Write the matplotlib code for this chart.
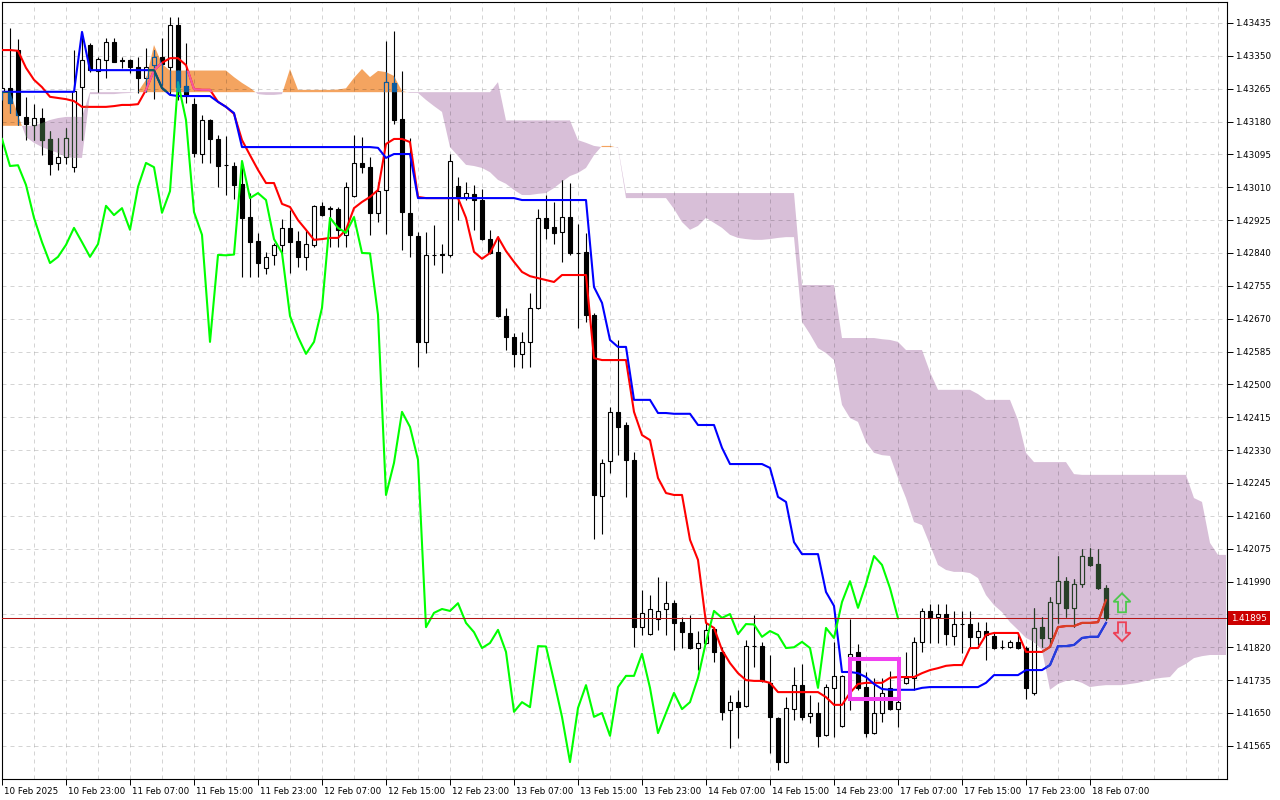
import numpy as np
import matplotlib
matplotlib.use('Agg')
import matplotlib.pyplot as plt
import matplotlib.patches as patches
from matplotlib.collections import LineCollection
from matplotlib.path import Path
from matplotlib.transforms import IdentityTransform, ScaledTranslation, blended_transform_factory

plt.rcParams['font.family'] = 'DejaVu Sans'

# H1 bars from 10 Feb 15:00 to 18 Feb 09:00 (139 bars)
opens = [
    1.43257, 1.43267, 1.43365, 1.43192, 1.43171, 1.43189, 1.43135, 1.43073, 1.43088, 1.43062,
    1.43269, 1.43378, 1.43311, 1.43339, 1.43386, 1.43338, 1.43339, 1.43321, 1.43293, 1.43326,
    1.43347, 1.43321, 1.43430, 1.43272, 1.43225, 1.43096, 1.43184, 1.43135, 1.43068, 1.43065,
    1.43019, 1.42933, 1.42871, 1.42801, 1.42835, 1.42861, 1.42905, 1.42871, 1.42830, 1.42861,
    1.42962, 1.42954, 1.42954, 1.42887, 1.42987, 1.43073, 1.43062, 1.42944, 1.43003, 1.43280,
    1.43187, 1.42944, 1.42884, 1.42610, 1.42835, 1.42837, 1.42835, 1.43013, 1.42985, 1.42993,
    1.42977, 1.42876, 1.42843, 1.42677, 1.42623, 1.42579, 1.42610, 1.42698, 1.42931, 1.42907,
    1.42894, 1.42933, 1.42840, 1.42843, 1.42680, 1.42211, 1.42302, 1.42429, 1.42395, 1.42305,
    1.41872, 1.41854, 1.41893, 1.41919, 1.41934, 1.41885, 1.41857, 1.41818, 1.41831, 1.41867,
    1.41808, 1.41658, 1.41678, 1.41668, 1.41823, 1.41823, 1.41728, 1.41637, 1.41523, 1.41660,
    1.41722, 1.41642, 1.41650, 1.41593, 1.41715, 1.41616, 1.41795, 1.41808, 1.41717, 1.41598,
    1.41650, 1.41715, 1.41660, 1.41728, 1.41741, 1.41834, 1.41914, 1.41898, 1.41906, 1.41849,
    1.41880, 1.41880, 1.41847, 1.41862, 1.41849, 1.41821, 1.41821, 1.41834, 1.41818, 1.41702,
    1.41872, 1.41844, 1.41934, 1.41991, 1.41922, 1.41984, 1.42054, 1.42035, 1.41973,
]
highs = [
    1.43288, 1.43422, 1.43394, 1.43244, 1.43225, 1.43215, 1.43156, 1.43137, 1.43163, 1.43365,
    1.43412, 1.43383, 1.43347, 1.43396, 1.43396, 1.43347, 1.43341, 1.43347, 1.43370, 1.43365,
    1.43396, 1.43450, 1.43450, 1.43383, 1.43241, 1.43197, 1.43187, 1.43145, 1.43143, 1.43075,
    1.43075, 1.42995, 1.42892, 1.42843, 1.42866, 1.42928, 1.42951, 1.42897, 1.42900, 1.42964,
    1.42972, 1.42962, 1.42958, 1.43024, 1.43145, 1.43140, 1.43088, 1.43024, 1.43388, 1.43414,
    1.43311, 1.43137, 1.42894, 1.42894, 1.42912, 1.42863, 1.43096, 1.43037, 1.43024, 1.43016,
    1.43006, 1.42900, 1.42884, 1.42698, 1.42633, 1.42636, 1.42736, 1.42954, 1.42990, 1.42972,
    1.43029, 1.43021, 1.42915, 1.42892, 1.42685, 1.42307, 1.42442, 1.42615, 1.42403, 1.42325,
    1.41968, 1.41955, 1.42002, 1.41991, 1.41942, 1.41898, 1.41903, 1.41862, 1.41883, 1.41872,
    1.41821, 1.41697, 1.41710, 1.41839, 1.41903, 1.41834, 1.41800, 1.41639, 1.41691, 1.41769,
    1.41777, 1.41697, 1.41678, 1.41725, 1.41834, 1.41748, 1.41893, 1.41828, 1.41756, 1.41741,
    1.41741, 1.41759, 1.41710, 1.41808, 1.41847, 1.41922, 1.41932, 1.41932, 1.41932, 1.41914,
    1.41914, 1.41914, 1.41885, 1.41885, 1.41859, 1.41839, 1.41839, 1.41852, 1.41823, 1.41922,
    1.41898, 1.41950, 1.42056, 1.42002, 1.41997, 1.42074, 1.42077, 1.42074, 1.41981,
]
lows = [
    1.43236, 1.43202, 1.43171, 1.43132, 1.43132, 1.43093, 1.43042, 1.43055, 1.43070, 1.43049,
    1.43132, 1.43308, 1.43257, 1.43293, 1.43334, 1.43319, 1.43306, 1.43254, 1.43257, 1.43238,
    1.43275, 1.43249, 1.43236, 1.43228, 1.43088, 1.43073, 1.43073, 1.43011, 1.42990, 1.42980,
    1.42778, 1.42778, 1.42778, 1.42786, 1.42809, 1.42840, 1.42788, 1.42804, 1.42796, 1.42856,
    1.42936, 1.42856, 1.42856, 1.42856, 1.42985, 1.43047, 1.42887, 1.42920, 1.42889, 1.43174,
    1.42848, 1.42830, 1.42545, 1.42581, 1.42809, 1.42788, 1.42830, 1.42925, 1.42977, 1.42900,
    1.42874, 1.42838, 1.42674, 1.42589, 1.42545, 1.42542, 1.42545, 1.42696, 1.42876, 1.42863,
    1.42817, 1.42835, 1.42646, 1.42662, 1.42100, 1.42113, 1.42271, 1.42317, 1.42209, 1.41821,
    1.41852, 1.41852, 1.41865, 1.41852, 1.41813, 1.41818, 1.41815, 1.41761, 1.41828, 1.41782,
    1.41632, 1.41559, 1.41585, 1.41665, 1.41769, 1.41730, 1.41547, 1.41503, 1.41520, 1.41632,
    1.41632, 1.41624, 1.41562, 1.41591, 1.41588, 1.41614, 1.41658, 1.41710, 1.41588, 1.41596,
    1.41627, 1.41658, 1.41614, 1.41725, 1.41710, 1.41808, 1.41831, 1.41831, 1.41826, 1.41826,
    1.41805, 1.41818, 1.41826, 1.41787, 1.41815, 1.41815, 1.41818, 1.41815, 1.41686, 1.41697,
    1.41821, 1.41821, 1.41883, 1.41898, 1.41872, 1.41976, 1.42030, 1.41971, 1.41891,
]
closes = [
    1.43267, 1.43228, 1.43197, 1.43174, 1.43189, 1.43132, 1.43070, 1.43088, 1.43137, 1.43259,
    1.43339, 1.43313, 1.43342, 1.43386, 1.43334, 1.43336, 1.43321, 1.43293, 1.43321, 1.43347,
    1.43329, 1.43430, 1.43269, 1.43249, 1.43099, 1.43184, 1.43135, 1.43065, 1.43067, 1.43016,
    1.42931, 1.42868, 1.42814, 1.42830, 1.42861, 1.42905, 1.42868, 1.42830, 1.42863, 1.42962,
    1.42938, 1.42956, 1.42900, 1.43011, 1.43073, 1.43062, 1.42944, 1.43000, 1.43282, 1.43184,
    1.42946, 1.42887, 1.42610, 1.42835, 1.42834, 1.42836, 1.43078, 1.42982, 1.42995, 1.42977,
    1.42876, 1.42840, 1.42677, 1.42623, 1.42579, 1.42610, 1.42698, 1.42931, 1.42905, 1.42892,
    1.42933, 1.42840, 1.42839, 1.42680, 1.42214, 1.42297, 1.42429, 1.42390, 1.42305, 1.41872,
    1.41909, 1.41919, 1.41914, 1.41934, 1.41883, 1.41859, 1.41818, 1.41831, 1.41865, 1.41808,
    1.41653, 1.41678, 1.41665, 1.41823, 1.41822, 1.41733, 1.41640, 1.41523, 1.41663, 1.41722,
    1.41640, 1.41650, 1.41591, 1.41717, 1.41746, 1.41746, 1.41803, 1.41715, 1.41598, 1.41650,
    1.41702, 1.41660, 1.41678, 1.41741, 1.41834, 1.41914, 1.41896, 1.41906, 1.41854, 1.41880,
    1.41879, 1.41847, 1.41862, 1.41852, 1.41818, 1.41820, 1.41834, 1.41818, 1.41715, 1.41870,
    1.41844, 1.41937, 1.41991, 1.41922, 1.41984, 1.42056, 1.42033, 1.41973, 1.41895,
]

# Ichimoku lines as drawn on the chart
tenkan = [
    1.43365, 1.43365, 1.43363, 1.43319, 1.43288, 1.43269, 1.43244, 1.43241, 1.43238, 1.43233,
    1.43218, 1.43218, 1.43218, 1.43218, 1.43220, 1.43223, 1.43223, 1.43225, 1.43262, 1.43313,
    1.43332, 1.43344, 1.43344, 1.43326, 1.43264, 1.43262, 1.43262, 1.43231, 1.43218, 1.43200,
    1.43132, 1.43093, 1.43055, 1.43021, 1.43021, 1.42967, 1.42959, 1.42925, 1.42900, 1.42874,
    1.42876, 1.42879, 1.42879, 1.42900, 1.42956, 1.42972, 1.42985, 1.43003, 1.43122, 1.43135,
    1.43135, 1.43127, 1.42985, 1.42982, 1.42982, 1.42982, 1.42982, 1.42982, 1.42931, 1.42843,
    1.42825, 1.42840, 1.42881, 1.42845, 1.42817, 1.42791, 1.42780, 1.42775, 1.42770, 1.42765,
    1.42783, 1.42783, 1.42783, 1.42783, 1.42568, 1.42563, 1.42563, 1.42563, 1.42563, 1.42429,
    1.42369, 1.42356, 1.42258, 1.42219, 1.42214, 1.42214, 1.42098, 1.42046, 1.41883, 1.41870,
    1.41813, 1.41779, 1.41753, 1.41735, 1.41733, 1.41733, 1.41728, 1.41704, 1.41704, 1.41704,
    1.41704, 1.41704, 1.41704, 1.41691, 1.41671, 1.41671, 1.41702, 1.41725, 1.41728, 1.41728,
    1.41728, 1.41741, 1.41743, 1.41743, 1.41743, 1.41753, 1.41761, 1.41766, 1.41772, 1.41774,
    1.41774, 1.41818, 1.41818, 1.41852, 1.41857, 1.41857, 1.41857, 1.41857, 1.41808, 1.41808,
    1.41808, 1.41821, 1.41872, 1.41875, 1.41875, 1.41883, 1.41883, 1.41885, 1.41942,
]
kijun = [
    1.43257, 1.43257, 1.43257, 1.43257, 1.43257, 1.43257, 1.43257, 1.43257, 1.43257, 1.43257,
    1.43412, 1.43313, 1.43313, 1.43313, 1.43313, 1.43313, 1.43313, 1.43313, 1.43313, 1.43313,
    1.43267, 1.43249, 1.43246, 1.43246, 1.43246, 1.43246, 1.43246, 1.43231, 1.43218, 1.43202,
    1.43114, 1.43114, 1.43114, 1.43114, 1.43114, 1.43114, 1.43114, 1.43114, 1.43114, 1.43114,
    1.43114, 1.43114, 1.43114, 1.43114, 1.43114, 1.43114, 1.43114, 1.43112, 1.43086, 1.43096,
    1.43096, 1.43096, 1.42982, 1.42982, 1.42982, 1.42982, 1.42982, 1.42982, 1.42982, 1.42982,
    1.42982, 1.42982, 1.42982, 1.42982, 1.42982, 1.42977, 1.42977, 1.42977, 1.42977, 1.42977,
    1.42977, 1.42977, 1.42977, 1.42977, 1.42752, 1.42711, 1.42615, 1.42597, 1.42597, 1.42460,
    1.42460, 1.42460, 1.42426, 1.42426, 1.42424, 1.42424, 1.42424, 1.42395, 1.42395, 1.42395,
    1.42336, 1.42294, 1.42294, 1.42294, 1.42294, 1.42294, 1.42284, 1.42209, 1.42196, 1.42092,
    1.42061, 1.42061, 1.42061, 1.41963, 1.41927, 1.41756, 1.41756, 1.41753, 1.41743, 1.41725,
    1.41712, 1.41710, 1.41710, 1.41710, 1.41710, 1.41715, 1.41717, 1.41717, 1.41717, 1.41717,
    1.41717, 1.41717, 1.41717, 1.41728, 1.41748, 1.41748, 1.41748, 1.41748, 1.41761, 1.41761,
    1.41761, 1.41774, 1.41823, 1.41823, 1.41826, 1.41844, 1.41847, 1.41847, 1.41883,
]
# cloud spans, running 15 bars past the last candle
span_a = [
    1.43257, 1.43257, 1.43197, 1.43140, 1.43125, 1.43114, 1.43106, 1.43099, 1.43088, 1.43086,
    1.43086, 1.43251, 1.43251, 1.43251, 1.43251, 1.43253, 1.43254, 1.43257, 1.43288, 1.43378,
    1.43329, 1.43312, 1.43312, 1.43312, 1.43312, 1.43312, 1.43312, 1.43312, 1.43312, 1.43295,
    1.43280, 1.43267, 1.43251, 1.43249, 1.43249, 1.43251, 1.43316, 1.43262, 1.43262, 1.43262,
    1.43262, 1.43262, 1.43263, 1.43266, 1.43293, 1.43316, 1.43295, 1.43311, 1.43308, 1.43298,
    1.43259, 1.43254, 1.43254, 1.43236, 1.43220, 1.43205, 1.43114, 1.43091, 1.43068, 1.43065,
    1.43060, 1.43049, 1.43029, 1.43019, 1.43003, 1.42990, 1.42990, 1.42993, 1.42995, 1.43008,
    1.43024, 1.43039, 1.43047, 1.43060, 1.43093, 1.43117, 1.43117, 1.43112, 1.42982, 1.42982,
    1.42982, 1.42982, 1.42982, 1.42982, 1.42954, 1.42920, 1.42900, 1.42910, 1.42931, 1.42918,
    1.42905, 1.42887, 1.42879, 1.42876, 1.42874, 1.42874, 1.42876, 1.42879, 1.42881, 1.42881,
    1.42662, 1.42630, 1.42594, 1.42581, 1.42563, 1.42447, 1.42413, 1.42403, 1.42351, 1.42323,
    1.42317, 1.42315, 1.42258, 1.42206, 1.42144, 1.42136, 1.42085, 1.42033, 1.42020, 1.42015,
    1.42015, 1.42012, 1.41999, 1.41955, 1.41929, 1.41911, 1.41885, 1.41865, 1.41844, 1.41834,
    1.41813, 1.41710, 1.41725, 1.41733, 1.41735, 1.41728, 1.41717, 1.41720, 1.41722, 1.41722,
    1.41722, 1.41725, 1.41728, 1.41733, 1.41738, 1.41741, 1.41743, 1.41766, 1.41777, 1.41792,
    1.41797, 1.41800, 1.41800, 1.41800,
]
span_b = [
    1.43169, 1.43169, 1.43169, 1.43169, 1.43169, 1.43176, 1.43184, 1.43189, 1.43192, 1.43192,
    1.43192, 1.43256, 1.43256, 1.43256, 1.43256, 1.43256, 1.43256, 1.43256, 1.43256, 1.43256,
    1.43256, 1.43256, 1.43256, 1.43256, 1.43256, 1.43256, 1.43256, 1.43256, 1.43256, 1.43256,
    1.43256, 1.43256, 1.43256, 1.43256, 1.43256, 1.43256, 1.43256, 1.43256, 1.43256, 1.43256,
    1.43256, 1.43256, 1.43256, 1.43256, 1.43256, 1.43256, 1.43256, 1.43256, 1.43256, 1.43256,
    1.43256, 1.43256, 1.43256, 1.43256, 1.43256, 1.43256, 1.43256, 1.43256, 1.43256, 1.43256,
    1.43256, 1.43256, 1.43282, 1.43183, 1.43183, 1.43183, 1.43183, 1.43183, 1.43183, 1.43183,
    1.43183, 1.43183, 1.43132, 1.43125, 1.43117, 1.43114, 1.43114, 1.43114, 1.42995, 1.42995,
    1.42995, 1.42995, 1.42995, 1.42995, 1.42995, 1.42995, 1.42995, 1.42995, 1.42995, 1.42995,
    1.42995, 1.42995, 1.42995, 1.42995, 1.42995, 1.42995, 1.42995, 1.42995, 1.42995, 1.42995,
    1.42757, 1.42757, 1.42757, 1.42757, 1.42757, 1.42620, 1.42620, 1.42620, 1.42620, 1.42620,
    1.42617, 1.42615, 1.42610, 1.42589, 1.42589, 1.42589, 1.42532, 1.42486, 1.42486, 1.42486,
    1.42486, 1.42486, 1.42475, 1.42460, 1.42460, 1.42460, 1.42460, 1.42408, 1.42323, 1.42299,
    1.42299, 1.42299, 1.42299, 1.42299, 1.42268, 1.42266, 1.42266, 1.42266, 1.42266, 1.42266,
    1.42266, 1.42266, 1.42266, 1.42266, 1.42266, 1.42266, 1.42266, 1.42266, 1.42266, 1.42206,
    1.42196, 1.42090, 1.42059, 1.42059,
]
chikou_shift = 26

time_labels = ['10 Feb 2025', '10 Feb 23:00', '11 Feb 07:00', '11 Feb 15:00', '11 Feb 23:00',
               '12 Feb 07:00', '12 Feb 15:00', '12 Feb 23:00', '13 Feb 07:00', '13 Feb 15:00',
               '13 Feb 23:00', '14 Feb 07:00', '14 Feb 15:00', '14 Feb 23:00', '17 Feb 07:00',
               '17 Feb 15:00', '17 Feb 23:00', '18 Feb 07:00']
price_ticks = [1.41565, 1.41650, 1.41735, 1.41820, 1.41905, 1.41990, 1.42075, 1.42160,
               1.42245, 1.42330, 1.42415, 1.42500, 1.42585, 1.42670, 1.42755, 1.42840,
               1.42925, 1.43010, 1.43095, 1.43180, 1.43265, 1.43350, 1.43435]

# highlighted area (bars / prices)
box_bars = [106.0, 112.1]
box_prices = [1.41686, 1.41790]

SANDY = '#F4A460'
THISTLE = '#D8BFD8'


def mt_mix(color, cloud):
    # MT4 paints the cloud with a not-xor pen, so colours change inside it
    a = [int(color[i:i + 2], 16) for i in (1, 3, 5)]
    b = [int(cloud[i:i + 2], 16) for i in (1, 3, 5)]
    return '#' + ''.join('%02x' % (255 - (p ^ q)) for p, q in zip(a, b))


n = len(closes)
o = np.array(opens)
c = np.array(closes)
last = closes[-1]

fig = plt.figure(figsize=(12.8, 8), dpi=100)
ax = fig.add_axes([2 / 1280, 21 / 800, 1225 / 1280, 777 / 800])

# cloud
xc = np.arange(len(span_a))
sa = np.array(span_a)
sb = np.array(span_b)
up = ax.fill_between(xc, sa, sb, where=sa >= sb, interpolate=True,
                     facecolor=SANDY, edgecolor='none', linewidth=0, zorder=1)
dn = ax.fill_between(xc, sa, sb, where=sa < sb, interpolate=True,
                     facecolor=THISTLE, edgecolor='none', linewidth=0, zorder=1)

# grid
for yv in price_ticks:
    ax.axhline(yv, color=(0, 0, 0, 0.17), lw=0.72, ls=(0, (4, 4)), zorder=1.5)
for xv in range(4, 154, 4):
    ax.axvline(xv, color=(0, 0, 0, 0.17), lw=0.72, ls=(0, (4, 4)), zorder=1.5)


def draw_chart(edge, bull, bear, red, blue, lime, z, clip=None):
    arts = []
    xs = np.arange(n)
    wicks = LineCollection([[(i, lows[i]), (i, highs[i])] for i in range(n)],
                           colors=edge, linewidths=0.8, zorder=z)
    ax.add_collection(wicks)
    arts.append(wicks)
    faces = [bull if c[i] >= o[i] else bear for i in range(n)]
    bars = ax.bar(xs, np.abs(c - o), bottom=np.minimum(o, c), width=0.5,
                  color=faces, edgecolor=edge, linewidth=0.8, zorder=z + 0.1)
    arts.extend(bars.patches)
    l1, = ax.plot(xs, tenkan, color=red, lw=1.5, zorder=z + 0.2)
    l2, = ax.plot(xs, kijun, color=blue, lw=1.5, zorder=z + 0.3)
    l3, = ax.plot(np.arange(n - chikou_shift), closes[chikou_shift:], color=lime,
                  lw=1.5, zorder=z + 0.4)
    arts += [l1, l2, l3]
    if clip is not None:
        for a in arts:
            a.set_clip_path(clip, ax.transData)


draw_chart('#000000', '#FFFFFF', '#000000', '#FF0000', '#0000FF', '#00FF00', 3)
for coll, k in ((up, SANDY), (dn, THISTLE)):
    paths = coll.get_paths()
    if not paths:
        continue
    clip = Path.make_compound_path(*paths)
    ink = mt_mix('#000000', k)
    draw_chart(ink, k, ink, mt_mix('#FF0000', k), mt_mix('#0000FF', k),
               mt_mix('#00FF00', k), 5, clip=clip)

ax.axhline(last, color='#B41414', lw=0.75, zorder=4.6)

ax.add_patch(patches.Rectangle((box_bars[0], box_prices[0]), box_bars[1] - box_bars[0],
                               box_prices[1] - box_prices[0], fill=False,
                               edgecolor='#F040F0', lw=2.9, zorder=9, joinstyle='miter'))

ax.set_xlim(0, 153.125)
ax.set_ylim(1.414792, 1.434893)

# axes styling
for sp in ax.spines.values():
    sp.set_color('black')
    sp.set_linewidth(0.8)
ax.set_yticks(price_ticks)
# the tick label that sits under the last-price tag is hidden by it
ax.set_yticklabels(['' if abs(v - last) < 0.00025 else '%.5f' % v for v in price_ticks])
ax.yaxis.tick_right()
ax.tick_params(axis='y', right=True, left=False, labelright=True, labelleft=False,
               length=4, width=0.7, pad=1.5, labelsize=6.3)
ax.set_xticks(range(0, n, 8))
ax.set_xticklabels(time_labels)
ax.tick_params(axis='x', length=4, width=0.7, pad=1.5, labelsize=6.3)
shift = ScaledTranslation(1.5 / 72, 0, fig.dpi_scale_trans)
for lab in ax.get_xticklabels():
    lab.set_horizontalalignment('left')
    lab.set_transform(lab.get_transform() + shift)

# last price tag
tag = blended_transform_factory(ax.transAxes, ax.transData) + ScaledTranslation(0.04, 0, fig.dpi_scale_trans)
ax.text(1.0, last, '%.5f' % last, transform=tag, ha='left', va='center', fontsize=6.3,
        color='white', clip_on=False, zorder=20,
        bbox=dict(boxstyle='square,pad=0.3', facecolor='#CC0000', edgecolor='none'))

# buy / sell arrows next to the last bar
px, py = ax.transData.transform((n + 1, last))
up_arrow = [(px, py + 25), (px + 8.5, py + 16.5), (px + 4, py + 16.5), (px + 4, py + 6),
            (px - 4, py + 6), (px - 4, py + 16.5), (px - 8.5, py + 16.5)]
dn_arrow = [(px, py - 23), (px + 8.5, py - 14.5), (px + 4, py - 14.5), (px + 4, py - 4),
            (px - 4, py - 4), (px - 4, py - 14.5), (px - 8.5, py - 14.5)]
fig.add_artist(patches.Polygon(up_arrow, closed=True, fill=False, edgecolor='#4CC84C',
                               lw=1.3, transform=IdentityTransform(), zorder=10))
fig.add_artist(patches.Polygon(dn_arrow, closed=True, fill=False, edgecolor='#EE3F55',
                               lw=1.3, transform=IdentityTransform(), zorder=10))

fig.savefig('out.png', dpi=100)
